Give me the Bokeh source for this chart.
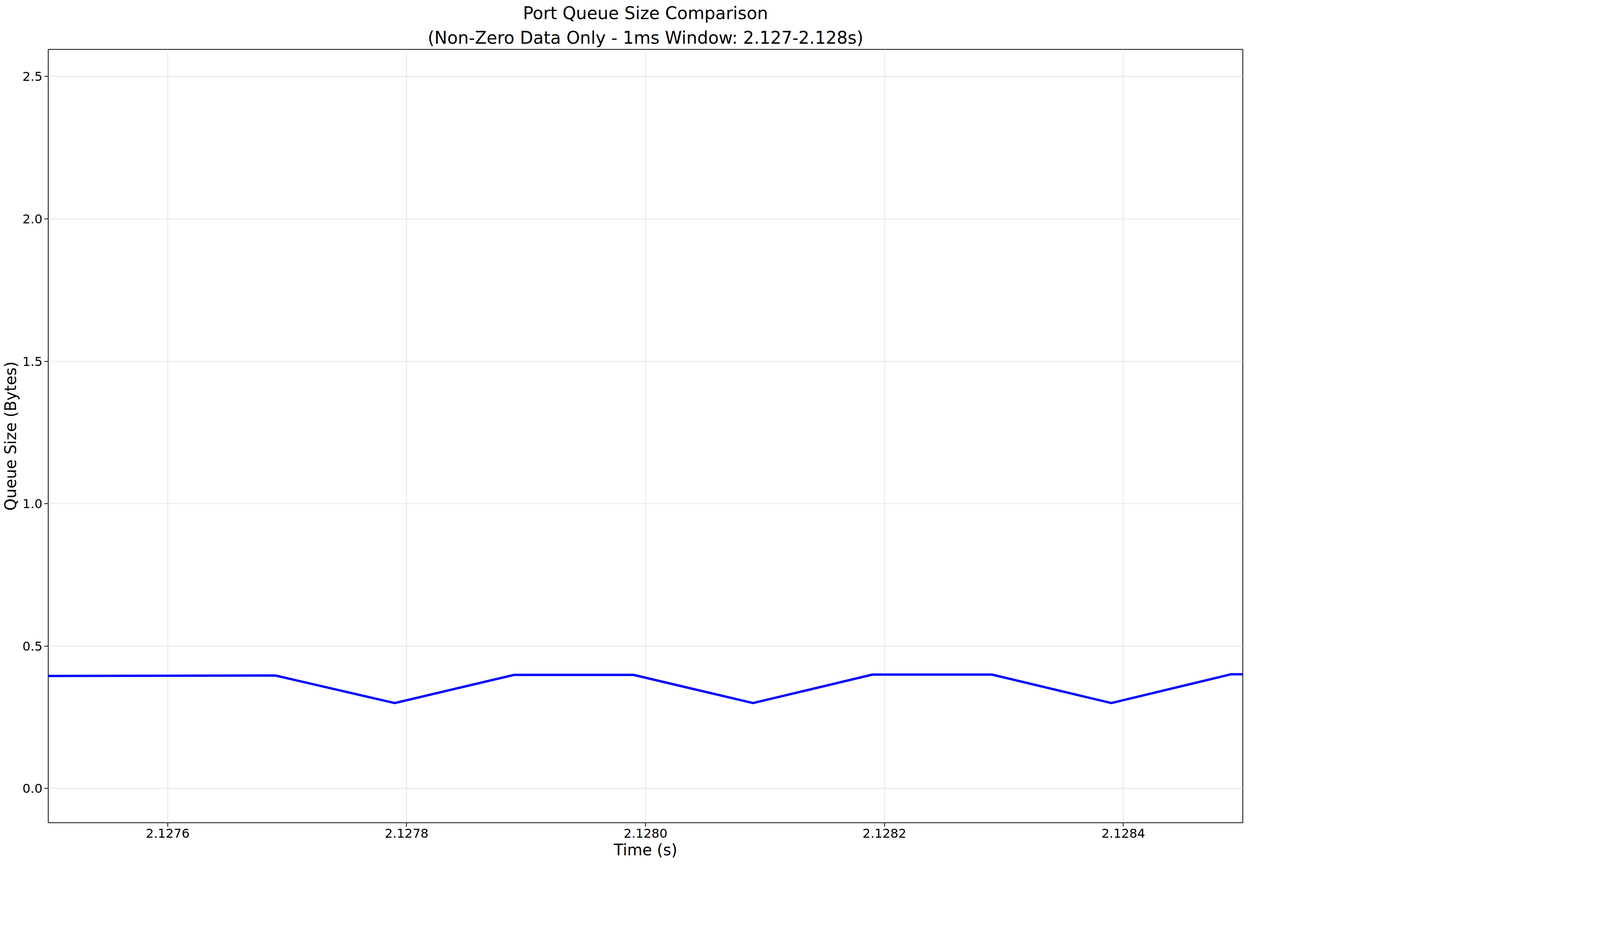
from bokeh.plotting import figure
from bokeh.models import Legend, CustomJSTickFormatter, FixedTicker, Label, Range1d, Title
from bokeh.embed import file_html
from bokeh.resources import INLINE

# data
time_s = [2.12739, 2.12749, 2.12759, 2.12769, 2.12779, 2.12789, 2.12799,
          2.12809, 2.12819, 2.12829, 2.12839, 2.12849, 2.12859]
avg_queue = [3.95e7, 3.95e7, 3.96e7, 3.97e7, 3.0e7, 3.99e7, 3.99e7,
             3.0e7, 4.0e7, 4.0e7, 3.0e7, 4.01e7, 4.01e7]
x_ticks = [2.1276, 2.1278, 2.1280, 2.1282, 2.1284]
y_ticks = [0, 0.5e8, 1.0e8, 1.5e8, 2.0e8, 2.5e8]

FW, FH = 3058, 1980
p = figure(frame_width=FW, frame_height=FH, output_backend="svg", toolbar_location=None,
           x_range=Range1d(2.1275, 2.1285), y_range=Range1d(-0.12e8, 2.595e8),
           min_border_left=20, min_border_right=900, min_border_top=60, min_border_bottom=20,
           title=None)

for txt in ["(Non-Zero Data Only - 1ms Window: 2.127-2.128s)", "Port Queue Size Comparison"]:
    p.add_layout(Title(text=txt, align="center", text_font="DejaVu Sans",
                       text_font_size="44px", text_font_style="normal",
                       text_color="black"), "above")

r = p.line(time_s, avg_queue, line_width=6, line_color="blue")

p.xaxis.axis_label = "Time (s)"
p.yaxis.axis_label = "Queue Size (Bytes)"
for ax in (p.xaxis, p.yaxis):
    ax.axis_label_text_font = "DejaVu Sans"
    ax.axis_label_text_font_size = "40px"
    ax.axis_label_text_font_style = "normal"
    ax.axis_label_text_color = "black"
    ax.major_label_text_font = "DejaVu Sans"
    ax.major_label_text_font_size = "32px"
    ax.major_label_text_color = "black"
    ax.minor_tick_line_color = None
    ax.major_tick_line_width = 2
    ax.major_tick_out = 10
    ax.major_tick_in = 0
    ax.axis_line_color = None
p.xaxis.ticker = FixedTicker(ticks=x_ticks)
p.xaxis.formatter = CustomJSTickFormatter(code="return tick.toFixed(4);")
p.yaxis.ticker = FixedTicker(ticks=y_ticks)
p.yaxis.formatter = CustomJSTickFormatter(code="return (tick/1e8).toFixed(1);")

p.outline_line_color = "black"
p.outline_line_width = 2
p.grid.grid_line_color = "#e6e6e6"
p.grid.grid_line_width = 2

p.add_layout(Label(x=0, y=FH, x_units="screen", y_units="screen", text="1e8",
                   text_font="DejaVu Sans", text_font_size="32px", y_offset=8))

legend = Legend(items=[("acc_webserver_incast - Avg Queue", [r])], location=(FW + 12, FH - 95),
                label_text_font="DejaVu Sans", label_text_font_size="32px",
                border_line_color="#cccccc", border_line_width=2, glyph_width=70,
                margin=0, padding=14, background_fill_color="white")
p.add_layout(legend, "center")

open("out.html", "w").write(file_html(p, INLINE))
